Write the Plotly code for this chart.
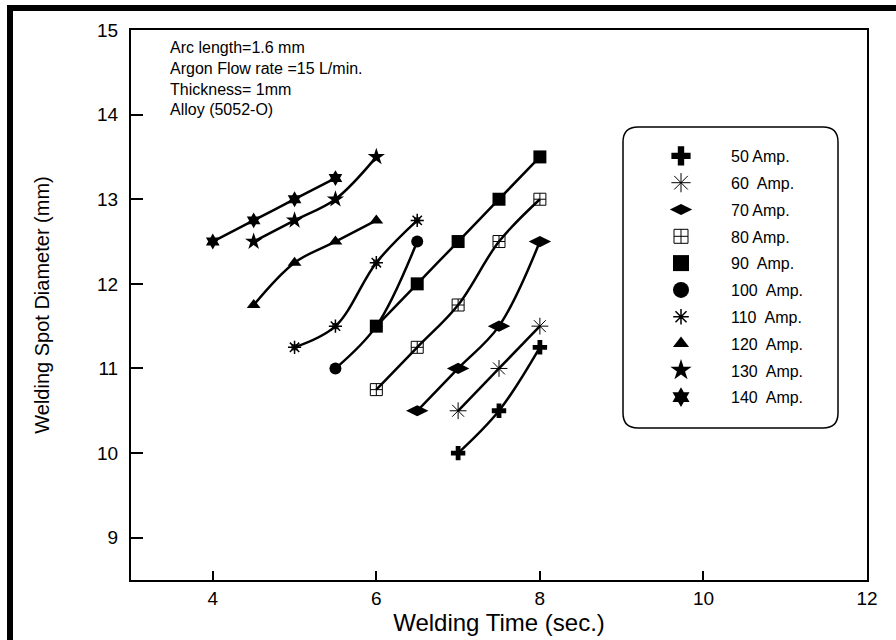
import plotly.graph_objects as go

# ---- data ----
labels = ["50 Amp.", "60  Amp.", "70 Amp.", "80 Amp.", "90  Amp.",
          "100  Amp.", "110  Amp.", "120  Amp.", "130  Amp.", "140  Amp."]

t50 = [7.0, 7.5, 8.0]
d50 = [10.0, 10.5, 11.25]
t60 = [7.0, 7.5, 8.0]
d60 = [10.5, 11.0, 11.5]
t70 = [6.5, 7.0, 7.5, 8.0]
d70 = [10.5, 11.0, 11.5, 12.5]
t80 = [6.0, 6.5, 7.0, 7.5, 8.0]
d80 = [10.75, 11.25, 11.75, 12.5, 13.0]
t90 = [6.0, 6.5, 7.0, 7.5, 8.0]
d90 = [11.5, 12.0, 12.5, 13.0, 13.5]
t100 = [5.5, 6.0, 6.5]
d100 = [11.0, 11.5, 12.5]
t110 = [5.0, 5.5, 6.0, 6.5]
d110 = [11.25, 11.5, 12.25, 12.75]
t120 = [4.5, 5.0, 5.5, 6.0]
d120 = [11.75, 12.25, 12.5, 12.75]
t130 = [4.5, 5.0, 5.5, 6.0]
d130 = [12.5, 12.75, 13.0, 13.5]
t140 = [4.0, 4.5, 5.0, 5.5]
d140 = [12.5, 12.75, 13.0, 13.25]

x_ticks = [4, 6, 8, 10, 12]
y_ticks = [9, 10, 11, 12, 13, 14, 15]

notes = ["Arc length=1.6 mm", "Argon Flow rate =15 L/min.",
         "Thickness= 1mm", "Alloy (5052-O)"]

# (symbol, plot size, legend size, open?)
styles = [
    ("cross", 12, 16, False),
    ("asterisk-open", 14, 16, True),
    ("diamond-wide", 16, 16, False),
    ("square-cross-open", 12, 14, True),
    ("square", 13, 16, False),
    ("circle", 12, 16, False),
    ("asterisk-open", 11, 13, True),
    ("triangle-up", 12, 14, False),
    ("star", 13, 16, False),
    ("hexagram", 12, 15, False),
]
series = [(t50, d50), (t60, d60), (t70, d70), (t80, d80), (t90, d90),
          (t100, d100), (t110, d110), (t120, d120), (t130, d130), (t140, d140)]


def marker(i, legend=False):
    sym, s_plot, s_leg, is_open = styles[i]
    m = dict(symbol=sym, size=s_leg if legend else s_plot, color="black")
    if is_open:
        m["line"] = dict(color="black", width=1.5 if i == 6 else 1)
    return m


FONT = "Arial, Liberation Sans, sans-serif"
fig = go.Figure()

# draw order: 90 Amp last so its squares sit on top
draw_order = [0, 1, 2, 3, 5, 6, 7, 8, 9, 4]
for i in draw_order:
    xs, ys = series[i]
    fig.add_trace(go.Scatter(
        x=xs, y=ys, mode="lines+markers",
        line=dict(color="black", width=2.5, shape="spline", smoothing=1.0),
        marker=marker(i), showlegend=False, hoverinfo="x+y", name=labels[i]))
    if i == 6:
        fig.add_trace(go.Scatter(
            x=xs, y=ys, mode="markers",
            marker=dict(symbol="square-open", size=5, color="black",
                        line=dict(color="black", width=1)),
            showlegend=False, hoverinfo="skip"))

# legend-only entries
for i in range(len(series)):
    fig.add_trace(go.Scatter(
        x=[None], y=[None], mode="markers", marker=marker(i, legend=True),
        name=labels[i], legendgroup=f"g{i}", showlegend=True))

# plot area in pixels: x 131..867, y 30..580
def px_x(p):
    return (p - 131) / 736.0

def px_y(p):
    return (580 - p) / 550.0

# rounded legend box
x0, x1 = px_x(623), px_x(838)
y0, y1 = px_y(428), px_y(127)
rx, ry = 15 / 736.0, 15 / 550.0
path = (f"M {x0+rx} {y1} L {x1-rx} {y1} Q {x1} {y1} {x1} {y1-ry} "
        f"L {x1} {y0+ry} Q {x1} {y0} {x1-rx} {y0} L {x0+rx} {y0} "
        f"Q {x0} {y0} {x0} {y0+ry} L {x0} {y1-ry} Q {x0} {y1} {x0+rx} {y1} Z")

shapes = [
    dict(type="path", path=path, xref="paper", yref="paper",
         line=dict(color="black", width=1.5), fillcolor="white", layer="below"),
    # outer frame (top and left thick bars)
    dict(type="rect", xref="paper", yref="paper", x0=px_x(7), x1=px_x(896),
         y0=px_y(11), y1=px_y(5), fillcolor="black", line=dict(width=0)),
    dict(type="rect", xref="paper", yref="paper", x0=px_x(7), x1=px_x(13),
         y0=px_y(640), y1=px_y(5), fillcolor="black", line=dict(width=0)),
]

fig.update_layout(
    width=896, height=640,
    margin=dict(l=131, r=29, t=30, b=60),
    paper_bgcolor="white", plot_bgcolor="white",
    font=dict(family=FONT, color="black"),
    shapes=shapes,
    xaxis=dict(range=[3, 12], tickvals=x_ticks, ticks="inside", ticklen=9,
               tickwidth=2, tickcolor="black", showline=True, linewidth=2,
               linecolor="black", mirror=True, showgrid=False, zeroline=False,
               tickfont=dict(size=19), title=dict(text="Welding Time (sec.)",
               font=dict(size=24), standoff=0)),
    yaxis=dict(range=[8.5, 15], tickvals=y_ticks, ticks="inside", ticklen=12,
               tickwidth=2, tickcolor="black", showline=True, linewidth=2,
               linecolor="black", mirror=True, showgrid=False, zeroline=False,
               ticklabelstandoff=7,
               tickfont=dict(size=19), title=dict(text="Welding Spot Diameter (mm)",
               font=dict(size=20), standoff=42)),
    legend=dict(x=px_x(631), y=px_y(139), xanchor="left", yanchor="top",
                bgcolor="rgba(0,0,0,0)", borderwidth=0, tracegroupgap=3,
                itemwidth=90, font=dict(size=16, family=FONT)),
    annotations=[dict(text="<br>".join(notes), x=px_x(168), y=px_y(37),
                      xref="paper", yref="paper", xanchor="left", yanchor="top",
                      align="left", showarrow=False, font=dict(size=16))],
)

fig.write_html("out.html", config={"displayModeBar": False},
               post_script="document.body.style.margin='0';")
